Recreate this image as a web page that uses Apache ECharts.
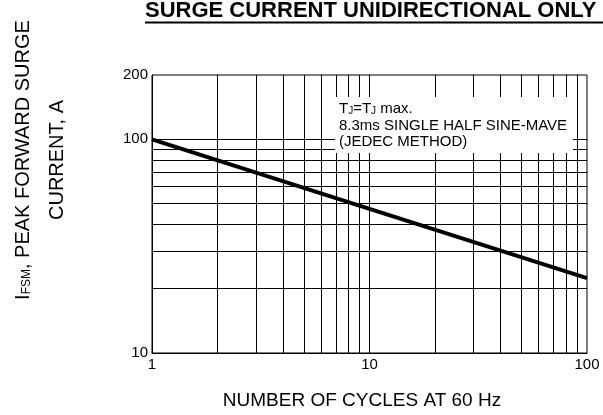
<!DOCTYPE html>
<html>
<head>
<meta charset="utf-8">
<script src="https://cdn.jsdelivr.net/npm/echarts@6/dist/echarts.min.js"></script>
<style>
  html, body { margin: 0; padding: 0; background: #fff; }
  #chart { width: 603px; height: 415px; }
</style>
</head>
<body>
<div id="chart"></div>
<script>
// surge current vs number of cycles (log-log, straight line)
var cycles = [1, 10, 100]
var current = [100, 47.3, 22.4]

// grid lines and labels
var xGrid = [2, 3, 4, 5, 6, 7, 8, 9, 10, 20, 30, 40, 50, 60, 70, 80, 90]
var yGrid = [20, 30, 40, 50, 60, 70, 80, 90, 100]
var xLabels = [1, 10, 100]
var yLabels = [10, 100, 200]

var font = 'Liberation Sans'
var chart = echarts.init(document.getElementById('chart'))

var gridLines = []
xGrid.forEach(function (v) { gridLines.push({ xAxis: v }) })
yGrid.forEach(function (v) { gridLines.push({ yAxis: v }) })

var option = {
  animation: false,
  backgroundColor: '#fff',
  grid: {
    left: 152,
    right: 16,
    top: 75,
    bottom: 62,
    show: true,
    borderColor: '#000',
    borderWidth: 1
  },
  xAxis: {
    type: 'log',
    logBase: 10,
    min: 1,
    max: 100,
    axisLine: { show: true, lineStyle: { color: '#000', width: 1 } },
    axisTick: { show: false },
    splitLine: { show: false },
    axisLabel: {
      customValues: xLabels,
      color: '#000',
      fontFamily: font,
      fontSize: 15,
      margin: 4
    }
  },
  yAxis: {
    type: 'log',
    logBase: 10,
    min: 10,
    max: 200,
    axisLine: { show: true, lineStyle: { color: '#000', width: 1 } },
    axisTick: { show: false },
    splitLine: { show: false },
    axisLabel: {
      customValues: yLabels,
      color: '#000',
      fontFamily: font,
      fontSize: 15,
      margin: 4
    }
  },
  series: [
    {
      type: 'line',
      data: [],
      silent: true,
      markLine: {
        silent: true,
        symbol: ['none', 'none'],
        label: { show: false },
        lineStyle: { type: 'solid', color: '#000', width: 1 },
        data: gridLines
      }
    },
    {
      name: 'IFSM',
      type: 'line',
      showSymbol: false,
      data: cycles.map(function (c, i) { return [c, current[i]] }),
      lineStyle: { color: '#000', width: 4 },
      z: 5
    }
  ],
  graphic: [
    {
      type: 'text',
      left: 145,
      top: 0,
      z: 20,
      style: {
        text: 'SURGE CURRENT UNIDIRECTIONAL ONLY',
        fontFamily: font,
        fontWeight: 'bold',
        fontSize: 22,
        fill: '#000'
      }
    },
    {
      type: 'rect',
      z: 20,
      shape: { x: 145, y: 21.5, width: 470, height: 2 },
      style: { fill: '#000' }
    },
    {
      type: 'rect',
      z: 20,
      shape: { x: 335, y: 97, width: 238, height: 56 },
      style: { fill: '#fff' }
    },
    {
      type: 'text',
      x: 339,
      y: 100,
      z: 21,
      style: {
        text: '{n|T}{s|J}{n|=T}{s|J}{n| max.}\n{n|8.3ms SINGLE HALF SINE-MAVE}\n{n|(JEDEC METHOD)}',
        fontFamily: font,
        fill: '#000',
        rich: {
          n: { fontSize: 15, fontFamily: font, lineHeight: 16.5, verticalAlign: 'bottom' },
          s: { fontSize: 10, fontFamily: font, lineHeight: 16.5, verticalAlign: 'bottom' }
        }
      }
    },
    {
      type: 'text',
      x: 23,
      y: 160,
      rotation: Math.PI / 2,
      z: 20,
      style: {
        text: '{n|I}{s|FSM}{n|, PEAK FORWARD SURGE}',
        align: 'center',
        verticalAlign: 'middle',
        fill: '#000',
        rich: {
          n: { fontSize: 20, fontFamily: font, verticalAlign: 'bottom' },
          s: { fontSize: 12, fontFamily: font, verticalAlign: 'bottom' }
        }
      }
    },
    {
      type: 'text',
      x: 57,
      y: 160,
      rotation: Math.PI / 2,
      z: 20,
      style: {
        text: 'CURRENT, A',
        align: 'center',
        verticalAlign: 'middle',
        fontFamily: font,
        fontSize: 20,
        fill: '#000'
      }
    },
    {
      type: 'text',
      x: 362,
      y: 401,
      z: 20,
      style: {
        text: 'NUMBER OF CYCLES AT 60 Hz',
        align: 'center',
        verticalAlign: 'middle',
        fontFamily: font,
        fontSize: 19,
        fill: '#000'
      }
    }
  ]
}

chart.setOption(option)
</script>
</body>
</html>
